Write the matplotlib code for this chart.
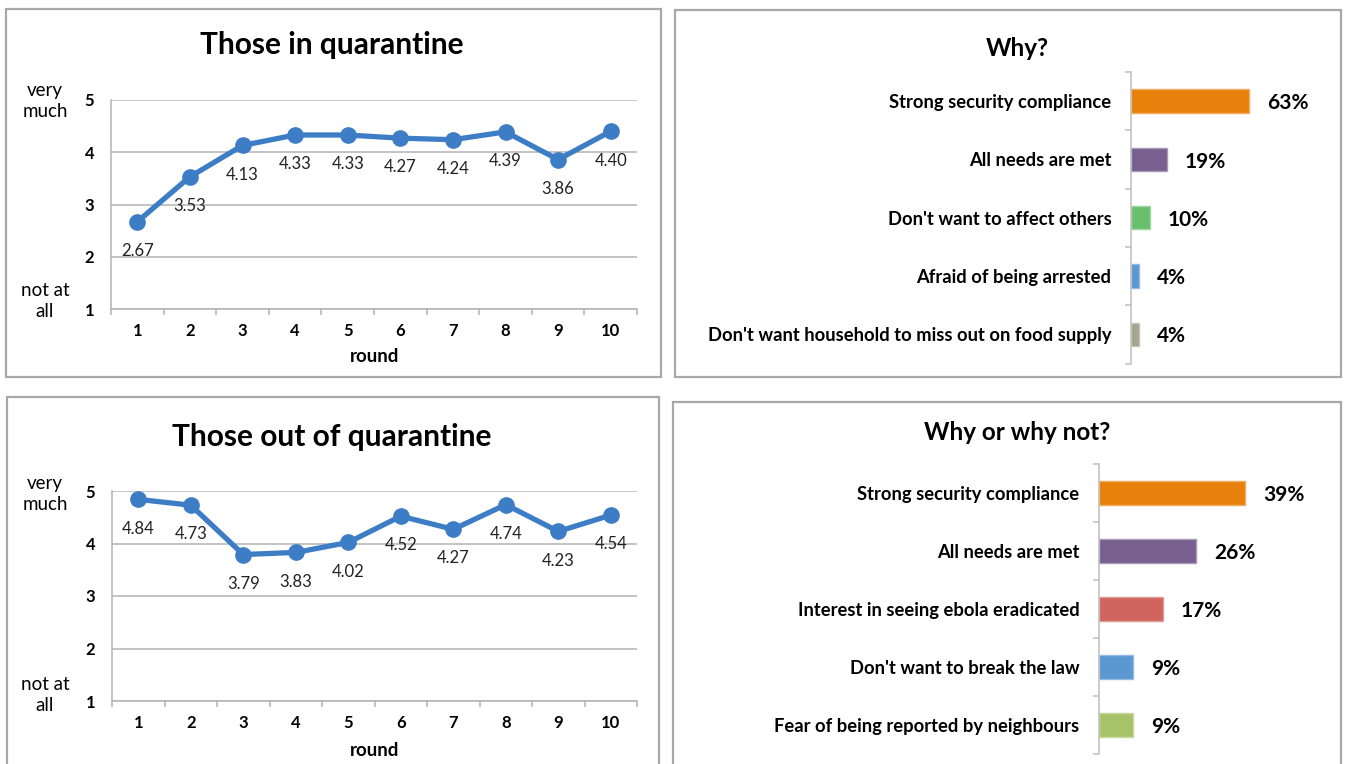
import matplotlib
matplotlib.use("Agg")
import matplotlib.pyplot as plt
from matplotlib.patches import Rectangle
import matplotlib.colors as mcolors
import numpy as np

plt.rcParams['font.family'] = ['Lato', 'DejaVu Sans']

# ---- data ----
rounds = [1, 2, 3, 4, 5, 6, 7, 8, 9, 10]
in_quarantine = [2.67, 3.53, 4.13, 4.33, 4.33, 4.27, 4.24, 4.39, 3.86, 4.40]
out_quarantine = [4.84, 4.73, 3.79, 3.83, 4.02, 4.52, 4.27, 4.74, 4.23, 4.54]

why_labels = ["Strong security compliance", "All needs are met",
              "Don't want to affect others", "Afraid of being arrested",
              "Don't want household to miss out on food supply"]
why_values = [63, 19, 10, 4, 4]

whynot_labels = ["Strong security compliance", "All needs are met",
                 "Interest in seeing ebola eradicated", "Don't want to break the law",
                 "Fear of being reported by neighbours"]
whynot_values = [39, 26, 17, 9, 9]

why_colors = ["#E8800C", "#77608F", "#6ABF6E", "#5B97D1", "#A6A38E"]
whynot_colors = ["#E8800C", "#77608F", "#D0655F", "#5B97D1", "#A7C36A"]

LINE_BLUE = "#3D7DC6"
GRID = "#B3B3B3"

W, H = 1345, 764
fig = plt.figure(figsize=(W / 100, H / 100), dpi=100)
fig.patch.set_facecolor("white")


def px_axes(x0, y0, x1, y1):
    return fig.add_axes([x0 / W, 1 - y1 / H, (x1 - x0) / W, (y1 - y0) / H])


def panel(x0, y0, x1, y1):
    fig.patches.append(Rectangle((x0 / W, 1 - y1 / H), (x1 - x0) / W, (y1 - y0) / H,
                                 transform=fig.transFigure, fill=False,
                                 edgecolor="#A8A8A8", linewidth=1.6))


def fx(x):
    return x / W


def fy(y):
    return 1 - y / H


# ---- panel frames ----
panel(6, 9, 661, 377)
panel(675, 10, 1341, 377)
panel(7, 397, 659, 790)
panel(673, 402, 1341, 790)


def line_chart(x0, y_top, y_bot, values, title, title_y, round_y, very_y, notat_y):
    ax = px_axes(x0, y_top, 637, y_bot)
    ax.set_xlim(0.5, 10.5)
    ax.set_ylim(1, 5)
    ax.plot(rounds, values, color=LINE_BLUE, linewidth=3.8, marker="o",
            markersize=11, solid_capstyle="round", zorder=3, clip_on=False)
    for r, v in zip(rounds, values):
        ax.annotate(f"{v:.2f}", (r, v), xytext=(0, -21), textcoords="offset points",
                    ha="center", va="center", fontsize=12, color="#222222")
    ax.set_yticks([1, 2, 3, 4, 5])
    ax.set_yticklabels(["1", "2", "3", "4", "5"], fontweight="bold", fontsize=12)
    ax.yaxis.grid(True, color=GRID, linewidth=1.1)
    ax.set_axisbelow(True)
    ax.set_xticks(rounds)
    ax.set_xticklabels([str(r) for r in rounds], fontweight="bold", fontsize=12)
    ax.set_xticks(np.arange(0.5, 11, 1), minor=True)
    ax.tick_params(axis="x", which="major", length=0, pad=10)
    ax.tick_params(axis="x", which="minor", length=4, color=GRID, width=1.1)
    ax.tick_params(axis="y", length=0, pad=12)
    for s in ["top", "right"]:
        ax.spines[s].set_visible(False)
    ax.spines["left"].set_color(GRID)
    ax.spines["bottom"].set_color(GRID)
    ax.spines["left"].set_linewidth(1.1)
    ax.spines["bottom"].set_linewidth(1.1)
    fig.text(fx(332), fy(title_y), title, ha="center", va="center",
             fontsize=21.5, fontweight="bold")
    fig.text(fx(375), fy(round_y), "round", ha="center", va="center",
             fontsize=13.5, fontweight="bold")
    fig.text(fx(45), fy(very_y), "very\nmuch", ha="center", va="center",
             fontsize=13.5, linespacing=1.3)
    fig.text(fx(45), fy(notat_y), "not at\nall", ha="center", va="center",
             fontsize=13.5, linespacing=1.3)


line_chart(111, 100, 309, in_quarantine, "Those in quarantine", 45, 357, 101, 301)
line_chart(112, 491, 701, out_quarantine, "Those out of quarantine", 437, 750, 494, 695)


def lighten(c, amt=0.35):
    r, g, b = mcolors.to_rgb(c)
    return (r + (1 - r) * amt, g + (1 - g) * amt, b + (1 - b) * amt)


def bar_chart(x0, y_top, y_bot, px_per_pct, labels, values, colors, title, title_y):
    x1 = 1330
    ax = px_axes(x0, y_top, x1, y_bot)
    n = len(labels)
    pos = np.arange(n)
    ax.barh(pos, values, height=0.4, color=colors,
            edgecolor=[lighten(c) for c in colors], linewidth=1.0)
    ax.set_xlim(0, (x1 - x0) / px_per_pct)
    ax.set_ylim(n - 0.5, -0.5)
    for p, v in zip(pos, values):
        ax.annotate(f"{v}%", (v, p), xytext=(13, -1.5), textcoords="offset points",
                    ha="left", va="center", fontsize=15, fontweight="bold")
    ax.set_yticks(pos)
    ax.set_yticklabels(labels, fontweight="bold", fontsize=13.2)
    ax.set_yticks(np.arange(-0.5, n, 1), minor=True)
    ax.tick_params(axis="y", which="major", length=0, pad=14)
    ax.tick_params(axis="y", which="minor", length=4, color="#BFBFBF", width=1.1)
    ax.set_xticks([])
    for s in ["top", "right", "bottom"]:
        ax.spines[s].set_visible(False)
    ax.spines["left"].set_color("#BFBFBF")
    ax.spines["left"].set_linewidth(1.1)
    fig.text(fx(1017), fy(title_y), title, ha="center", va="center",
             fontsize=17.5, fontweight="bold")


bar_chart(1131, 72, 363.5, 1.875, why_labels, why_values, why_colors, "Why?", 48)
bar_chart(1099, 464, 754, 3.74, whynot_labels, whynot_values, whynot_colors,
          "Why or why not?", 433)

fig.savefig("out.png", dpi=100, facecolor="white")
